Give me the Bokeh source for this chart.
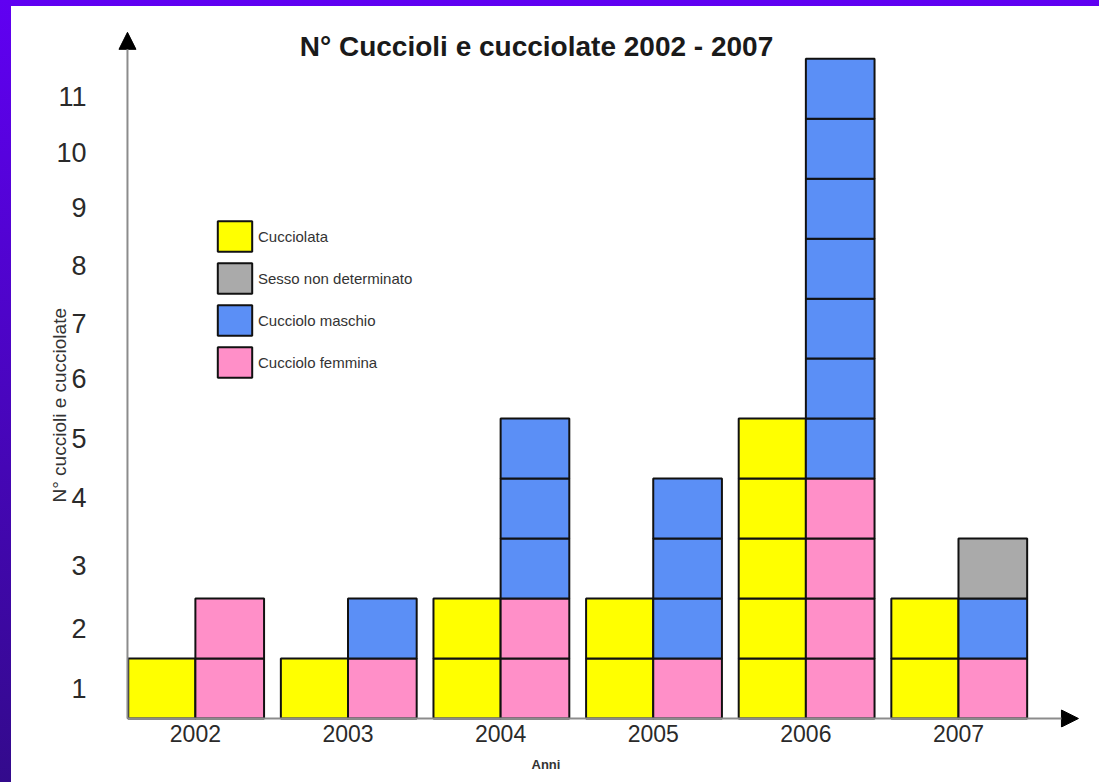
from bokeh.plotting import figure
from bokeh.models import (Range1d, FixedTicker, Arrow, NormalHead, Label, Title,
                          Legend, LegendItem, ColumnDataSource, GlobalInlineStyleSheet)
from bokeh.embed import file_html
from bokeh.resources import INLINE

# ---- data ----
years = ["2002", "2003", "2004", "2005", "2006", "2007"]
cucciolate = [1, 1, 2, 2, 5, 2]          # yellow column
femmine = [2, 1, 2, 1, 4, 1]             # pink units
maschi = [0, 1, 3, 3, 7, 1]              # blue units
non_determinati = [0, 0, 0, 0, 0, 1]     # gray units
y_tick_labels = ["1", "2", "3", "4", "5", "6", "7", "8", "9", "10", "11"]
y_tick_pos = [0.5, 1.5, 2.55, 3.68, 4.67, 5.67, 6.58, 7.55, 8.52, 9.43, 10.37]

FONT = "Liberation Sans"
YELLOW, GRAY, BLUE, PINK = "#ffff00", "#aaaaaa", "#5b8ff6", "#ff8fc8"
LEFT_W, RIGHT_W = 0.44, 0.45
X0, X_TIP, Y_TIP = -0.445, 5.786, 11.44   # axis origin / arrow tips

page_css = GlobalInlineStyleSheet(css="""
html { background: linear-gradient(to bottom, #6000f2 0%, #330a8c 100%); }
html, body { margin: 0; padding: 0; overflow: hidden; }
body { padding: 6px 0 0 11px; background: transparent; }
""")

p = figure(width=1088, height=776,
           x_range=Range1d(-0.53, 5.865), y_range=Range1d(-0.15, 11.637),
           output_backend="svg", toolbar_location=None,
           min_border_left=103, min_border_right=9,
           min_border_top=14, min_border_bottom=55)
p.stylesheets = [page_css]
p.styles = {"background-color": "white"}
p.title.visible = False
p.background_fill_color = "white"
p.border_fill_color = "white"
p.outline_line_color = None
p.xgrid.visible = False
p.ygrid.visible = False


def empty():
    return dict(left=[], right=[], bottom=[], top=[])


# yellow: one unit box per cucciolata, left of the year centre
yel = empty()
for i, n in enumerate(cucciolate):
    for k in range(n):
        yel["left"].append(i - LEFT_W)
        yel["right"].append(i)
        yel["bottom"].append(k)
        yel["top"].append(k + 1)

# right column: pink, then blue, then gray stacked as unit boxes
base = [0] * len(years)
stacks = []
for series in (femmine, maschi, non_determinati):
    d = empty()
    for i, n in enumerate(series):
        for k in range(n):
            d["left"].append(i)
            d["right"].append(i + RIGHT_W)
            d["bottom"].append(base[i] + k)
            d["top"].append(base[i] + k + 1)
        base[i] += n
    stacks.append(d)

common = dict(line_color="#111111", line_width=2)
r_yel = p.quad(source=ColumnDataSource(yel), fill_color=YELLOW, **common)
r_pink = p.quad(source=ColumnDataSource(stacks[0]), fill_color=PINK, **common)
r_blue = p.quad(source=ColumnDataSource(stacks[1]), fill_color=BLUE, **common)
r_gray = p.quad(source=ColumnDataSource(stacks[2]), fill_color=GRAY, **common)

# axes (labels only; lines drawn as arrows)
p.xaxis.ticker = FixedTicker(ticks=list(range(len(years))))
p.xaxis.major_label_overrides = {i: y for i, y in enumerate(years)}
p.yaxis.ticker = FixedTicker(ticks=y_tick_pos)
p.yaxis.major_label_overrides = {v: t for v, t in zip(y_tick_pos, y_tick_labels)}
for ax in (p.xaxis[0], p.yaxis[0]):
    ax.axis_line_color = None
    ax.major_tick_line_color = None
    ax.minor_tick_line_color = None
    ax.major_tick_out = 0
    ax.major_tick_in = 0
    ax.major_label_text_font = FONT
    ax.major_label_text_color = "#2a2a2a"
p.xaxis.major_label_text_font_size = "23px"
p.xaxis.major_label_standoff = -3
p.yaxis.major_label_text_font_size = "27px"
p.yaxis.major_label_standoff = 28

head_kw = dict(fill_color="black", line_color="black")
p.add_layout(Arrow(end=NormalHead(size=17, **head_kw), x_start=X0, y_start=0,
                   x_end=X0, y_end=Y_TIP, line_color="#8c8c8c", line_width=2))
p.add_layout(Arrow(end=NormalHead(size=17, **head_kw), x_start=X0, y_start=0,
                   x_end=X_TIP, y_end=0, line_color="#8c8c8c", line_width=2))

p.add_layout(Label(x=2.235, y=11.2, text="N° Cuccioli e cucciolate 2002 - 2007",
                   text_align="center", text_baseline="middle", text_font=FONT,
                   text_font_size="28px", text_font_style="bold", text_color="#1a1a1a"))

p.add_layout(Title(text="N° cuccioli e cucciolate", align="left", offset=225,
                   standoff=-33,
                   text_font=FONT, text_font_size="19px", text_font_style="normal",
                   text_color="#333333"), "left")
p.add_layout(Title(text="Anni", align="left", offset=417, standoff=20,
                   text_font=FONT, text_font_size="13px", text_font_style="bold",
                   text_color="#333333"), "below")

legend = Legend(items=[
    LegendItem(label="Cucciolata", renderers=[r_yel]),
    LegendItem(label="Sesso non determinato", renderers=[r_gray]),
    LegendItem(label="Cucciolo maschio", renderers=[r_blue]),
    LegendItem(label="Cucciolo femmina", renderers=[r_pink]),
], location=(99, 346), glyph_width=43, glyph_height=38, spacing=4,
    padding=0, margin=0, label_standoff=2, label_text_font=FONT,
    label_text_font_size="15px", label_text_color="#333333",
    background_fill_alpha=0, border_line_alpha=0)
p.add_layout(legend, "center")

open("out.html", "w").write(file_html(p, INLINE))
